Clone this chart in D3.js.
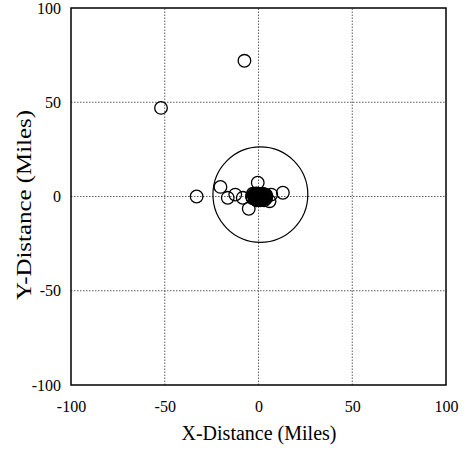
<!DOCTYPE html>
<html><head><meta charset="utf-8">
<script src="https://cdn.jsdelivr.net/npm/d3@7"></script>
<style>body{margin:0;background:#fff}svg{display:block}</style>
</head><body>
<svg id="c" width="470" height="449"></svg>
<script>
const xTicks = [-100, -50, 0, 50, 100];
const yTicks = [-100, -50, 0, 50, 100];
const gridVals = [-50, 0, 50];
const pointX = [-7.5, -52, -33, -20.3, -16.4, -12.4, -8.4, -5.2, -0.4, 13, 6.8, 5.9,
  -3, -2, -1, 0, 1, 2, 3, 4, -3, -1.5, 0.5, 2.5, 4, -2, 0, 2, 3.5, -1, 1, 3, -2.5, 1.5,
  -3.5, -2.5, -0.5, 0.5, 1.5, 2.5, 3.5, -1.5, 0.2, 1.2, 2.2, -0.8, 0.8, 2.8, -3.2, 4.2];
const pointY = [72, 47, 0, 5.1, -0.7, 1, -0.7, -6.5, 7.3, 2, 1, -2.5,
  1.5, 1.5, 1.6, 1.5, 1.4, 1.5, 1.2, 0.8, -1, -1.5, -1.8, -1.5, -1, 0, 0, 0, 0.3, -2, -2, -2, 0.5, 0.8,
  0, 0.7, 0.5, 0.9, -0.5, 0.4, -0.6, 0.2, -1, -1.2, -0.8, 1, -0.2, -0.3, -0.5, 0.1];
const ringCenter = [1, 1];
const ringRadius = 25.3;

const svg = d3.select("#c");
const x = d3.scaleLinear().domain([-100, 100]).range([71, 446]);
const y = d3.scaleLinear().domain([-100, 100]).range([385, 8]);
const font = "'Liberation Serif','Times New Roman',serif";

// grid
svg.append("g").selectAll("line").data(gridVals).join("line")
  .attr("x1", d => x(d)).attr("x2", d => x(d)).attr("y1", y(-100)).attr("y2", y(100))
  .attr("stroke", "#333").attr("stroke-width", 0.8).attr("stroke-dasharray", "1.5,1.5");
svg.append("g").selectAll("line").data(gridVals).join("line")
  .attr("y1", d => y(d)).attr("y2", d => y(d)).attr("x1", x(-100)).attr("x2", x(100))
  .attr("stroke", "#333").attr("stroke-width", 0.8).attr("stroke-dasharray", "1.5,1.5");

// axes
const xAxis = svg.append("g").attr("transform", `translate(0,${y(-100)})`)
  .call(d3.axisBottom(x).tickValues(xTicks).tickSize(0).tickPadding(16).tickFormat(d => String(d)));
const yAxis = svg.append("g").attr("transform", `translate(${x(-100)},0)`)
  .call(d3.axisLeft(y).tickValues(yTicks).tickSize(0).tickPadding(10).tickFormat(d => String(d)));
[xAxis, yAxis].forEach(g => {
  g.select(".domain").remove();
  g.selectAll("text").attr("font-family", font).attr("font-size", 16).attr("fill", "#000");
});

// frame
svg.append("rect").attr("x", x(-100)).attr("y", y(100))
  .attr("width", x(100) - x(-100)).attr("height", y(-100) - y(100))
  .attr("fill", "none").attr("stroke", "#000").attr("stroke-width", 1.5);

// ring
svg.append("ellipse").attr("cx", x(ringCenter[0])).attr("cy", y(ringCenter[1]))
  .attr("rx", x(ringRadius) - x(0)).attr("ry", y(0) - y(ringRadius))
  .attr("fill", "none").attr("stroke", "#000").attr("stroke-width", 1.2);

// points
svg.append("g").selectAll("circle").data(pointX.map((v, i) => [v, pointY[i]])).join("circle")
  .attr("cx", d => x(d[0])).attr("cy", d => y(d[1])).attr("r", 6.3)
  .attr("fill", "none").attr("stroke", "#000").attr("stroke-width", 1.3);

// titles
svg.append("text").attr("x", 259).attr("y", 440).attr("text-anchor", "middle")
  .attr("font-family", font).attr("font-size", 20).text("X-Distance (Miles)");
svg.append("text").attr("transform", "translate(31,205) rotate(-90)").attr("text-anchor", "middle")
  .attr("font-family", font).attr("font-size", 20)
  .attr("textLength", 190).attr("lengthAdjust", "spacingAndGlyphs").text("Y-Distance (Miles)");
</script>
</body></html>
